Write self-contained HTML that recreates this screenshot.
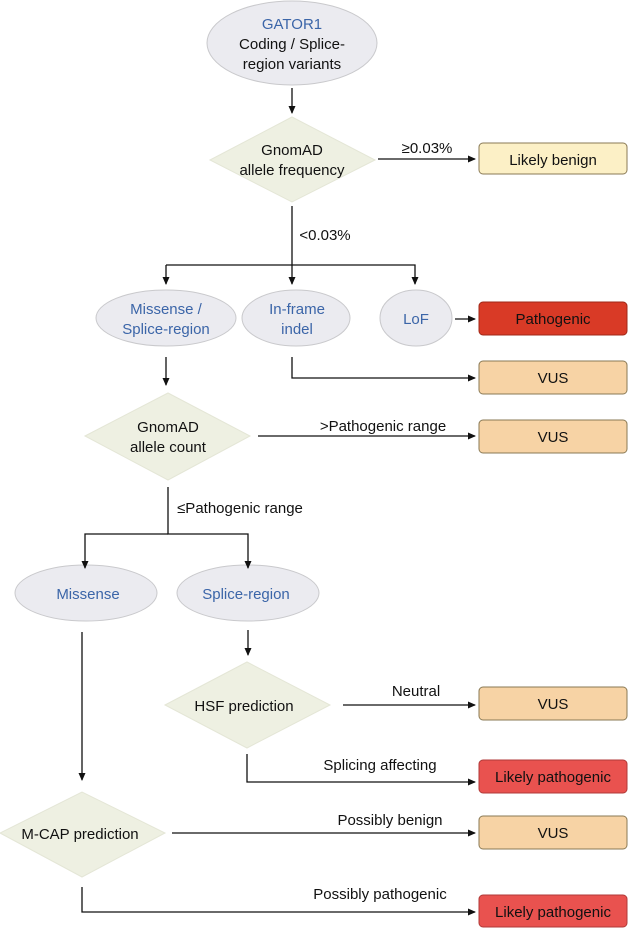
<!DOCTYPE html>
<html><head><meta charset="utf-8"><style>
html,body{margin:0;padding:0;background:#fff;}
svg{display:block;font-family:"Liberation Sans",Arial,sans-serif;}
</style></head><body>
<svg width="629" height="928" viewBox="0 0 629 928">
<defs><marker id="a" markerWidth="8" markerHeight="8" refX="7" refY="4" orient="auto" markerUnits="userSpaceOnUse"><path d="M0,0.5 L8,4 L0,7.5 z" fill="#111"/></marker></defs>
<g fill="#ebebf0" stroke="#c9c9cc" stroke-width="1">
<ellipse cx="292" cy="43" rx="85" ry="42"/>
<ellipse cx="166" cy="318" rx="70" ry="28"/>
<ellipse cx="296" cy="318" rx="54" ry="28"/>
<ellipse cx="416" cy="318" rx="36" ry="28"/>
<ellipse cx="86" cy="593" rx="71" ry="28"/>
<ellipse cx="248" cy="593" rx="71" ry="28"/>
</g>
<g fill="#eef0e2" stroke="#e4e6d6">
<polygon points="210,160 292,117 375,160 292,202"/>
<polygon points="85,436 168,393 250,436 168,480"/>
<polygon points="165,705 247,662 330,705 247,748"/>
<polygon points="0,833 82,792 165,833 82,877"/>
</g>
<g stroke="#8a7a55" stroke-width="1">
<rect x="479" y="143" width="148" height="31" rx="4" fill="#fcf0c6"/>
<rect x="479" y="302" width="148" height="33" rx="4" fill="#d93a26" stroke="#a02818"/>
<rect x="479" y="361" width="148" height="33" rx="4" fill="#f7d3a5"/>
<rect x="479" y="420" width="148" height="33" rx="4" fill="#f7d3a5"/>
<rect x="479" y="687" width="148" height="33" rx="4" fill="#f7d3a5"/>
<rect x="479" y="760" width="148" height="33" rx="4" fill="#e9524f" stroke="#b03a38"/>
<rect x="479" y="816" width="148" height="33" rx="4" fill="#f7d3a5"/>
<rect x="479" y="895" width="148" height="32" rx="4" fill="#e9524f" stroke="#b03a38"/>
</g>
<g stroke="#111" stroke-width="1.3" fill="none" marker-end="url(#a)">
<path d="M292,88 V113"/>
<path d="M378,159 H475"/>
<path d="M292,206 V284"/>
<path d="M166,265 H415 V284"/>
<path d="M166,265 V284"/>
<path d="M455,319 H475"/>
<path d="M292,357 V378 H475"/>
<path d="M166,357 V385"/>
<path d="M258,436 H475"/>
<path d="M168,487 V534 H248 V568"/>
<path d="M168,534 H85 V568"/>
<path d="M82,632 V780"/>
<path d="M248,630 V655"/>
<path d="M343,705 H475"/>
<path d="M247,754 V782 H475"/>
<path d="M172,833 H475"/>
<path d="M82,887 V912 H475"/>
</g>
<g font-size="15" fill="#111" text-anchor="middle">
<text x="292" y="29" fill="#3b65a8">GATOR1</text>
<text x="292" y="49">Coding / Splice-</text>
<text x="292" y="69">region variants</text>
<text x="292" y="155">GnomAD</text>
<text x="292" y="175">allele frequency</text>
<text x="427" y="153">≥0.03%</text>
<text x="553" y="165">Likely benign</text>
<text x="325" y="240">&lt;0.03%</text>
<text x="166" y="314" fill="#3b65a8">Missense /</text>
<text x="166" y="334" fill="#3b65a8">Splice-region</text>
<text x="297" y="314" fill="#3b65a8">In-frame</text>
<text x="297" y="334" fill="#3b65a8">indel</text>
<text x="416" y="324" fill="#3b65a8">LoF</text>
<text x="553" y="324">Pathogenic</text>
<text x="553" y="383">VUS</text>
<text x="168" y="432">GnomAD</text>
<text x="168" y="452">allele count</text>
<text x="383" y="431">&gt;Pathogenic range</text>
<text x="553" y="442">VUS</text>
<text x="240" y="513">≤Pathogenic range</text>
<text x="88" y="599" fill="#3b65a8">Missense</text>
<text x="246" y="599" fill="#3b65a8">Splice-region</text>
<text x="244" y="711">HSF prediction</text>
<text x="416" y="696">Neutral</text>
<text x="553" y="709">VUS</text>
<text x="380" y="770">Splicing affecting</text>
<text x="553" y="782">Likely pathogenic</text>
<text x="80" y="839">M-CAP prediction</text>
<text x="390" y="825">Possibly benign</text>
<text x="553" y="838">VUS</text>
<text x="380" y="899">Possibly pathogenic</text>
<text x="553" y="917">Likely pathogenic</text>
</g>
</svg>
</body></html>
